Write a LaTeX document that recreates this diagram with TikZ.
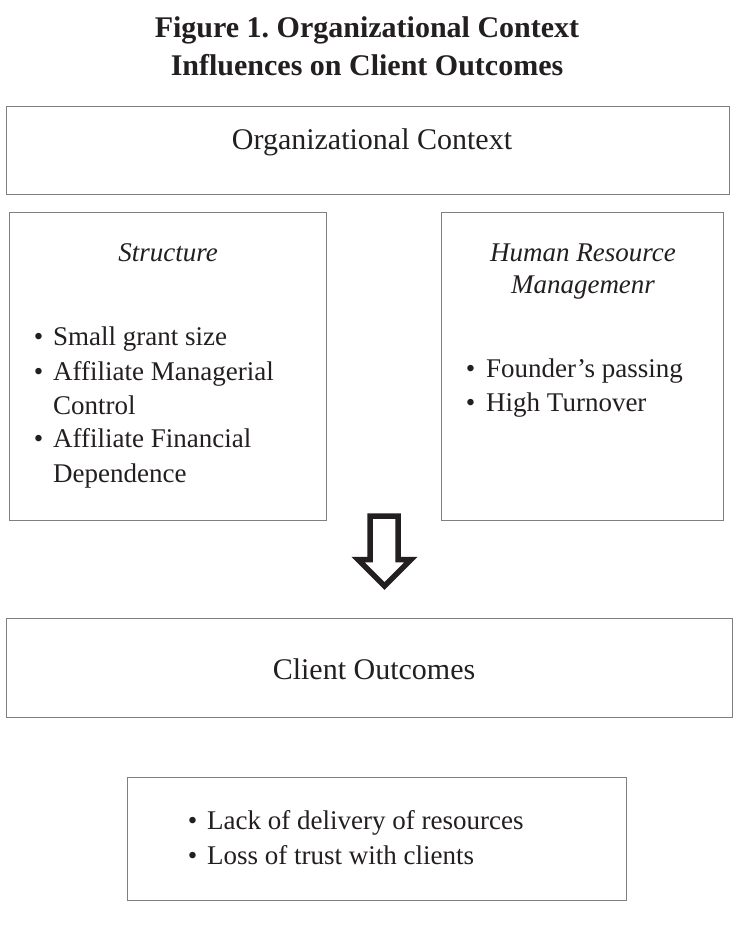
\documentclass[tikz,border=0pt]{standalone}
\usepackage{fontspec}
\setmainfont{Liberation Serif}
\definecolor{boxgray}{HTML}{7F7F7F}
\definecolor{ink}{HTML}{231F20}
\begin{document}
\frenchspacing
\begin{tikzpicture}[x=1pt,y=-1pt,
  box/.style={draw=boxgray,line width=1.3pt,inner sep=0pt,anchor=north west},
  ttl/.style={font=\fontsize{30}{36}\selectfont\bfseries,anchor=base,inner sep=0pt,text=ink},
  head/.style={font=\fontsize{30}{36}\selectfont,anchor=base,inner sep=0pt,text=ink},
  sub/.style={font=\fontsize{27}{32}\selectfont\itshape,anchor=base,inner sep=0pt,text=ink},
  item/.style={font=\fontsize{27}{32}\selectfont,anchor=base west,inner sep=0pt,text=ink},
  bul/.style={font=\fontsize{27}{32}\selectfont,anchor=base,inner sep=0pt,text=ink}]
\useasboundingbox[fill=white] (0,0) rectangle (738,928);

% title
\node[ttl] (t1) at (367,38) {Figure 1. Organizational Context};
\node[ttl] (t2) at (367,76) {Influences on Client Outcomes};

% boxes
\node[box,minimum width=723pt,minimum height=88pt] (ctx) at (6,106) {};
\node[box,minimum width=317pt,minimum height=308pt] (str) at (9,212) {};
\node[box,minimum width=282pt,minimum height=308pt] (hrm) at (441,212) {};
\node[box,minimum width=726pt,minimum height=99pt] (out) at (6,618) {};
\node[box,minimum width=499pt,minimum height=123pt] (res) at (127,777) {};

% headings
\node[head] (ctxl) at (372,150) {Organizational Context};
\node[head] (outl) at (374,679) {Client Outcomes};
\node[sub] (strl) at (168,261) {Structure};
\node[sub] (hrml1) at (583,261) {Human Resource};
\node[sub] (hrml2) at (583,293) {Managemenr};

% structure items
\node[bul] (sb1) at (38.5,345) {\textbullet};
\node[item] (s1) at (53,345) {Small grant size};
\node[bul] (sb2) at (38.5,380) {\textbullet};
\node[item] (s2) at (53,380) {Affiliate Managerial};
\node[item] (s2b) at (53,414) {Control};
\node[bul] (sb3) at (38.5,447) {\textbullet};
\node[item] (s3) at (53,447) {Affiliate Financial};
\node[item] (s3b) at (53,482) {Dependence};

% HRM items
\node[bul] (hb1) at (470.5,377) {\textbullet};
\node[item] (h1) at (486,377) {Founder’s passing};
\node[bul] (hb2) at (470.5,411) {\textbullet};
\node[item] (h2) at (486,411) {High Turnover};

% outcome items
\node[bul] (rb1) at (192.5,829) {\textbullet};
\node[item] (r1) at (207,829) {Lack of delivery of resources};
\node[bul] (rb2) at (192.5,864) {\textbullet};
\node[item] (r2) at (207,864) {Loss of trust with clients};

% hollow arrow
\draw[ink,line width=5.5pt,line join=miter]
  (370,516) -- (398,516) -- (398,559.5) -- (411,559.5) -- (384.5,586)
  -- (358,559.5) -- (370,559.5) -- cycle;
\end{tikzpicture}
\end{document}
